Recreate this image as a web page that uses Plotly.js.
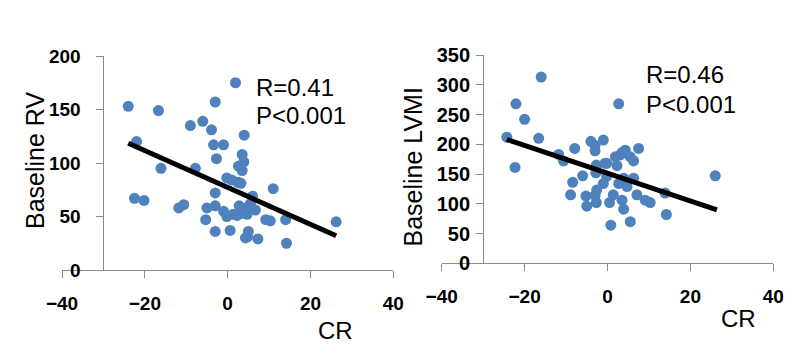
<!DOCTYPE html>
<html>
<head>
<meta charset="utf-8">
<script src="https://cdn.plot.ly/plotly-3.0.1.min.js"></script>
<style>html,body{margin:0;padding:0;background:#fff;}#chart{width:810px;height:355px;}</style>
</head>
<body>
<div id="chart"></div>
<script>
// Left panel: CR vs Baseline RV
const crRV = [1.9,-24,-16.7,-3,-9,-6,-3.9,4,-3.4,-1,-22,-2.7,3.5,3.9,2.6,3.5,-16.1,-7.8,-0.2,1,2.5,3.2,-3,11,6,-22.5,-20.2,-11.8,-10.6,-5,-3,-1,-0.2,1.3,2.8,4.5,4.7,6.7,2.3,3.5,5.5,-5.3,-3,0.6,5,4.3,4.8,7.3,9.2,10.3,14,14.2,26.2];
const baselineRV = [175,153,149,157,135,139,131,126,117,117,120,104,108,101,97,93,95,95,86,84,82,81,72,76,69,67,65,58,61,58,60,55,50,52,60,58,52,56,51,53,62,47,36,37,36,30,31,29,47,46,47,25,45];
const trendRVx = [-24, 26.2];
const trendRVy = [118.5, 32];

// Right panel: CR vs Baseline LVMI
const crLVMI = [-16,-22.1,2.7,-20,-24.3,-16.6,-22.3,-11.8,-10.6,-7.9,-8.4,-6,-8.9,-4,-3,-3,-1,-2.7,-2.8,-0.2,1.9,2.3,3.1,4.3,5.5,6.3,7.5,-0.2,-1,-2.6,-3,-5.2,-5,-2.7,0.5,1.4,2.7,3.9,6.3,4.7,3.5,3.9,5.5,0.8,7.1,9.1,10.3,13.9,14.2,26,-0.6,3.5];
const baselineLVMI = [313,268,268,242,212,210,161,183,172,193,136,147,115,205,198,189,207,165,152,168,179,164,182,190,179,172,193,146,134,123,114,113,96,102,102,115,134,143,143,129,106,91,70,64,115,106,102,118,82,147,168,186];
const trendLVx = [-24.3, 26.4];
const trendLVy = [208, 89.6];

const blue = '#4F81BD';
const axisGray = '#898989';
const fam = 'Liberation Sans, Arial, sans-serif';

const traces = [
  {x: crRV, y: baselineRV, xaxis: 'x', yaxis: 'y', mode: 'markers', type: 'scatter',
   marker: {color: blue, size: 11}, cliponaxis: false},
  {x: trendRVx, y: trendRVy, xaxis: 'x', yaxis: 'y', mode: 'lines', type: 'scatter',
   line: {color: '#000', width: 5}, cliponaxis: false},
  {x: crLVMI, y: baselineLVMI, xaxis: 'x2', yaxis: 'y2', mode: 'markers', type: 'scatter',
   marker: {color: blue, size: 11}, cliponaxis: false},
  {x: trendLVx, y: trendLVy, xaxis: 'x2', yaxis: 'y2', mode: 'lines', type: 'scatter',
   line: {color: '#000', width: 5}, cliponaxis: false}
];

const tickFont = (s) => ({family: fam, size: s, weight: 'bold', color: '#000'});
function xAx(domain, anchor) {
  return {domain: domain, range: [-40, 40], dtick: 20, tick0: -40, anchor: anchor,
    showgrid: false, zeroline: false, showline: true, linecolor: axisGray, linewidth: 1,
    ticks: 'outside', ticklen: 7, tickcolor: axisGray, tickfont: tickFont(19), ticklabelstandoff: 9};
}
function yAx(domain, range, pos, standoff, fs) {
  return {domain: domain, range: range, dtick: 50, tick0: 0, anchor: 'free', position: pos,
    showgrid: false, zeroline: false, showline: true, linecolor: axisGray, linewidth: 1,
    ticks: 'outside', ticklen: 7, tickcolor: axisGray, tickfont: tickFont(fs), ticklabelstandoff: standoff};
}

const W = 810, H = 355;
const px = v => v / W, py = v => 1 - v / H;
const txt = (s, x, y, opts) => Object.assign({text: s, xref: 'paper', yref: 'paper', x: px(x), y: py(y),
  showarrow: false, xanchor: 'left', yanchor: 'middle', font: {family: fam, size: 24, color: '#000'}}, opts || {});

const layout = {
  width: W, height: H, margin: {l: 0, r: 0, t: 0, b: 0},
  paper_bgcolor: '#fff', plot_bgcolor: '#fff', showlegend: false,
  xaxis: xAx([px(62), px(393.3)], 'y'),
  yaxis: yAx([py(270), py(56)], [0, 200], px(103.4), 12, 19),
  xaxis2: xAx([px(441.7), px(773.3)], 'y2'),
  yaxis2: yAx([py(263.3), py(55)], [0, 350], px(483.1), 2, 20),
  annotations: [
    txt('R=0.41', 254, 87),
    txt('P<0.001', 254, 115),
    txt('R=0.46', 644, 75),
    txt('P<0.001', 644, 104),
    txt('CR', 335, 330, {xanchor: 'center'}),
    txt('CR', 738.5, 318, {xanchor: 'center'}),
    txt('Baseline RV', 35, 161, {xanchor: 'center', textangle: -90, font: {family: fam, size: 25, color: '#000'}}),
    txt('Baseline LVMI', 412, 167.5, {xanchor: 'center', textangle: -90, font: {family: fam, size: 25, color: '#000'}})
  ]
};

Plotly.newPlot('chart', traces, layout, {staticPlot: true, displayModeBar: false});
</script>
</body>
</html>
